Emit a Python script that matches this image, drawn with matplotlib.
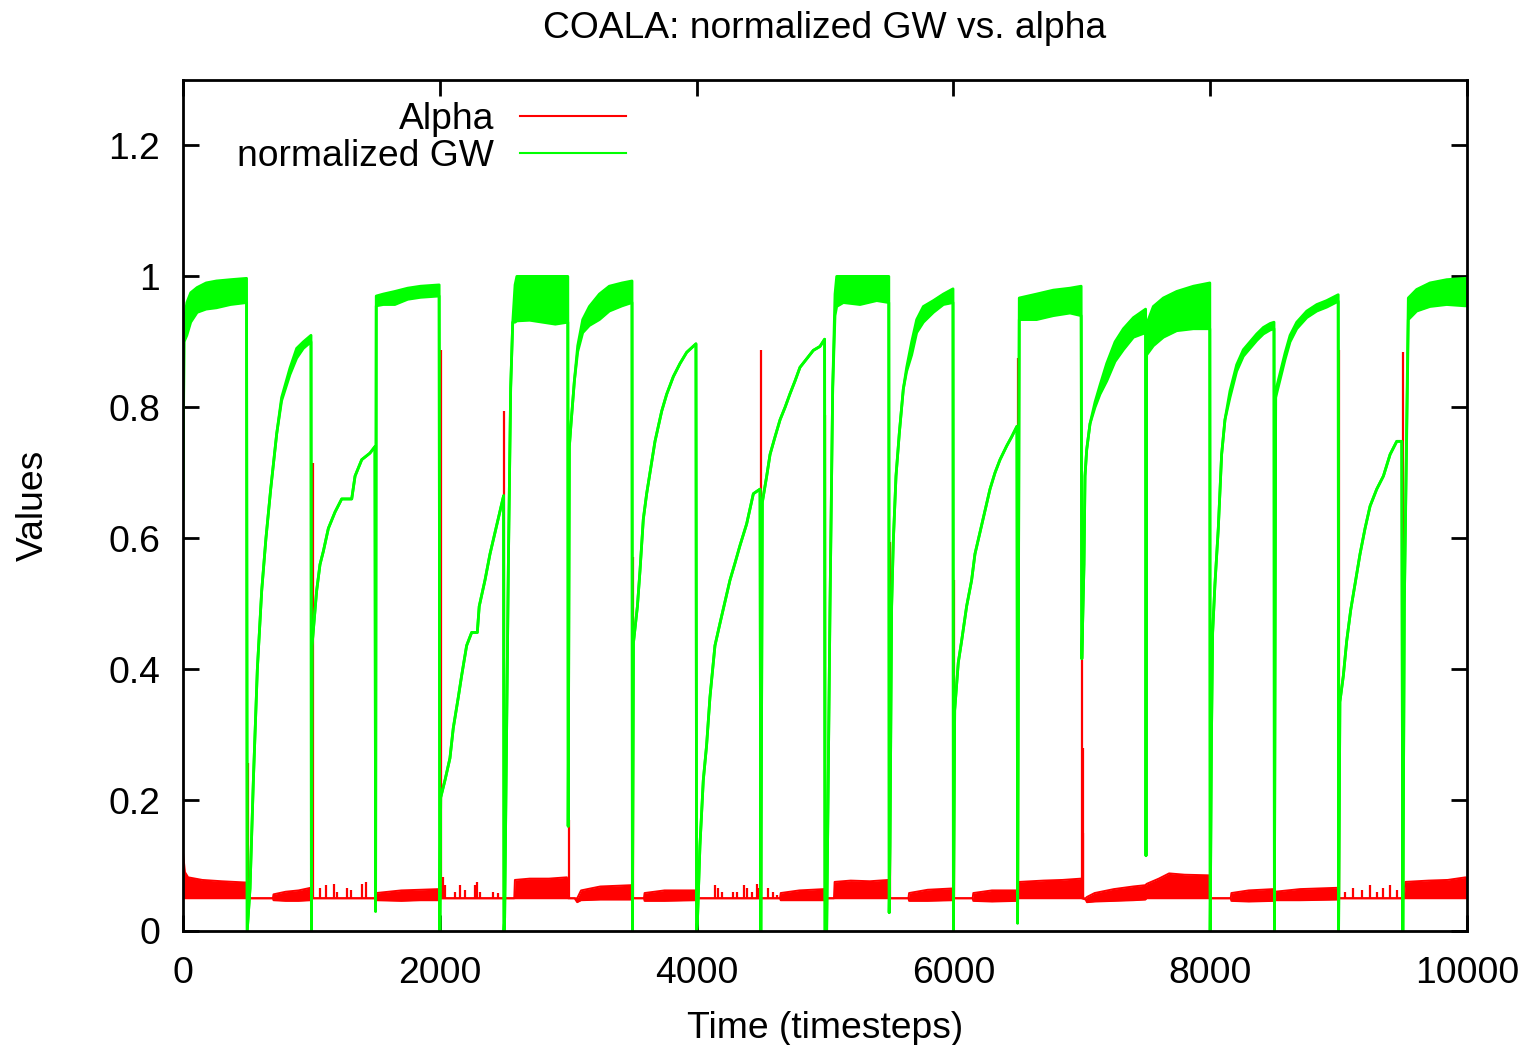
import numpy as np
import matplotlib
matplotlib.use("Agg")
import matplotlib.pyplot as plt

plt.rcParams['font.family'] = ['Liberation Sans', 'DejaVu Sans']

# normalized GW: time, lower edge, upper edge of the trace
# (one line per 500-step run, the reset dip is the first point of each line)
gw_t = [0, 8, 30, 60, 110, 180, 260, 370, 495,
        500, 522, 548, 579, 613, 646, 683, 730, 768, 833, 885, 937, 997,
        1000, 1005, 1041, 1067, 1093, 1132, 1184, 1236, 1314, 1340, 1392, 1456, 1495,
        1500, 1505, 1560, 1650, 1750, 1850, 1995,
        2000, 2007, 2040, 2079, 2105, 2144, 2170, 2209, 2248, 2292, 2307, 2352, 2391, 2430, 2469, 2497,
        2500, 2505, 2534, 2552, 2568, 2586, 2600, 2700, 2800, 2900, 2997,
        3000, 3009, 3022, 3048, 3074, 3113, 3165, 3243, 3320, 3420, 3497,
        3500, 3508, 3539, 3559, 3585, 3611, 3637, 3676, 3728, 3767, 3819, 3871, 3923, 3995,
        4000, 4006, 4026, 4052, 4078, 4104, 4143, 4182, 4221, 4260, 4299, 4338, 4390, 4442, 4494,
        4500, 4512, 4546, 4572, 4611, 4650, 4689, 4728, 4766, 4805, 4857, 4909, 4961, 4997,
        5000, 5013, 5039, 5060, 5078, 5091, 5143, 5273, 5403, 5497,
        5500, 5506, 5519, 5532, 5553, 5579, 5610, 5636, 5675, 5714, 5766, 5844, 5922, 5997,
        6000, 6010, 6038, 6064, 6103, 6142, 6168, 6207, 6246, 6285, 6324, 6363, 6415, 6454, 6495,
        6500, 6513, 6648, 6778, 6908, 6995,
        7000, 7017, 7025, 7038, 7064, 7103, 7142, 7194, 7259, 7324, 7402, 7497,
        7500, 7505, 7557, 7635, 7739, 7869, 7997,
        8000, 8010, 8019, 8037, 8063, 8089, 8115, 8154, 8206, 8258, 8310, 8362, 8414, 8466, 8497,
        8500, 8510, 8544, 8583, 8622, 8674, 8752, 8830, 8907, 8997,
        9000, 9010, 9037, 9063, 9094, 9128, 9167, 9206, 9245, 9297, 9349, 9401, 9453, 9492,
        9500, 9512, 9543, 9608, 9712, 9842, 9984, 10000]
gw_lo = [0.66, 0.90, 0.91, 0.93, 0.945, 0.95, 0.952, 0.957, 0.96,
         0.0, 0.065, 0.23, 0.40, 0.52, 0.60, 0.675, 0.76, 0.81, 0.85, 0.875, 0.89, 0.90,
         0.0, 0.436, 0.52, 0.56, 0.58, 0.615, 0.64, 0.66, 0.66, 0.695, 0.72, 0.73, 0.74,
         0.03, 0.955, 0.957, 0.957, 0.965, 0.968, 0.97,
         0.0, 0.204, 0.23, 0.264, 0.31, 0.357, 0.39, 0.436, 0.456, 0.456, 0.496, 0.536, 0.576, 0.609, 0.642, 0.665,
         0.0, 0.02, 0.56, 0.83, 0.93, 0.93, 0.932, 0.933, 0.93, 0.927, 0.93,
         0.16, 0.74, 0.775, 0.84, 0.885, 0.914, 0.925, 0.934, 0.947, 0.955, 0.96,
         0.0, 0.44, 0.496, 0.55, 0.629, 0.668, 0.70, 0.748, 0.794, 0.82, 0.847, 0.867, 0.884, 0.897,
         0.0, 0.012, 0.13, 0.23, 0.284, 0.357, 0.436, 0.47, 0.503, 0.536, 0.562, 0.589, 0.622, 0.668, 0.675,
         0.0, 0.655, 0.695, 0.728, 0.755, 0.781, 0.80, 0.821, 0.84, 0.861, 0.874, 0.887, 0.893, 0.904,
         0.0, 0.0, 0.496, 0.83, 0.94, 0.954, 0.96, 0.957, 0.963, 0.96,
         0.028, 0.13, 0.496, 0.595, 0.695, 0.761, 0.828, 0.855, 0.88, 0.914, 0.93, 0.945, 0.957, 0.96,
         0.0, 0.337, 0.41, 0.443, 0.496, 0.536, 0.576, 0.609, 0.642, 0.675, 0.70, 0.72, 0.741, 0.755, 0.771,
         0.012, 0.934, 0.934, 0.94, 0.944, 0.94,
         0.416, 0.56, 0.695, 0.735, 0.775, 0.80, 0.82, 0.84, 0.87, 0.888, 0.907, 0.914,
         0.115, 0.88, 0.894, 0.907, 0.917, 0.92, 0.92,
         0.0, 0.30, 0.456, 0.53, 0.615, 0.728, 0.781, 0.815, 0.855, 0.878, 0.89, 0.902, 0.912, 0.918, 0.92,
         0.0, 0.815, 0.842, 0.873, 0.90, 0.92, 0.937, 0.947, 0.953, 0.962,
         0.0, 0.35, 0.39, 0.443, 0.49, 0.53, 0.576, 0.615, 0.649, 0.675, 0.695, 0.728, 0.748, 0.748,
         0.0, 0.50, 0.934, 0.947, 0.954, 0.957, 0.955, 0.955]
gw_hi = [0.66, 0.93, 0.96, 0.975, 0.983, 0.99, 0.993, 0.995, 0.997,
         0.0, 0.065, 0.23, 0.40, 0.52, 0.60, 0.675, 0.76, 0.815, 0.86, 0.89, 0.90, 0.91,
         0.0, 0.436, 0.52, 0.56, 0.58, 0.615, 0.64, 0.66, 0.66, 0.695, 0.72, 0.73, 0.74,
         0.03, 0.97, 0.973, 0.977, 0.982, 0.985, 0.987,
         0.0, 0.204, 0.23, 0.264, 0.31, 0.357, 0.39, 0.436, 0.456, 0.456, 0.496, 0.536, 0.576, 0.609, 0.642, 0.665,
         0.0, 0.02, 0.56, 0.83, 0.93, 0.987, 1.0, 1.0, 1.0, 1.0, 1.0,
         0.16, 0.74, 0.775, 0.84, 0.894, 0.934, 0.954, 0.973, 0.985, 0.99, 0.993,
         0.0, 0.44, 0.496, 0.55, 0.629, 0.668, 0.70, 0.748, 0.794, 0.82, 0.847, 0.867, 0.884, 0.897,
         0.0, 0.012, 0.13, 0.23, 0.284, 0.357, 0.436, 0.47, 0.503, 0.536, 0.562, 0.589, 0.622, 0.668, 0.675,
         0.0, 0.655, 0.695, 0.728, 0.755, 0.781, 0.80, 0.821, 0.84, 0.861, 0.874, 0.887, 0.893, 0.904,
         0.0, 0.0, 0.496, 0.83, 0.973, 1.0, 1.0, 1.0, 1.0, 1.0,
         0.028, 0.13, 0.496, 0.595, 0.695, 0.761, 0.828, 0.861, 0.90, 0.934, 0.954, 0.963, 0.973, 0.981,
         0.0, 0.337, 0.41, 0.443, 0.496, 0.536, 0.576, 0.609, 0.642, 0.675, 0.70, 0.72, 0.741, 0.755, 0.771,
         0.012, 0.967, 0.973, 0.979, 0.982, 0.985,
         0.416, 0.56, 0.695, 0.735, 0.775, 0.808, 0.834, 0.867, 0.90, 0.92, 0.937, 0.95,
         0.115, 0.927, 0.954, 0.967, 0.977, 0.985, 0.99,
         0.0, 0.30, 0.456, 0.53, 0.615, 0.728, 0.781, 0.825, 0.865, 0.888, 0.90, 0.912, 0.922, 0.928, 0.93,
         0.0, 0.825, 0.852, 0.883, 0.91, 0.93, 0.947, 0.957, 0.963, 0.972,
         0.0, 0.35, 0.39, 0.443, 0.49, 0.53, 0.576, 0.615, 0.649, 0.675, 0.695, 0.728, 0.748, 0.748,
         0.0, 0.50, 0.967, 0.98, 0.99, 0.995, 0.997, 0.997]

# Alpha: baseline 0.05 with a noise band (lower / upper edge)
al_t = [0, 15, 40, 150, 300, 495, 500,
        700, 705, 800, 900, 995, 1000,
        1500, 1505, 1700, 1850, 1995, 2000,
        2580, 2585, 2700, 2850, 2990, 3000,
        3050, 3070, 3100, 3250, 3495, 3500,
        3590, 3595, 3750, 3995, 4000,
        4650, 4655, 4800, 4995, 5000,
        5070, 5075, 5200, 5350, 5495, 5500,
        5650, 5655, 5800, 5995, 6000,
        6150, 6155, 6300, 6495, 6500,
        6510, 6515, 6700, 6850, 6995, 7000,
        7030, 7040, 7100, 7250, 7400, 7495,
        7505, 7600, 7680, 7800, 7995, 8000,
        8160, 8165, 8300, 8495,
        8505, 8700, 8995, 9000,
        9510, 9520, 9700, 9850, 9990, 10000]
al_lo = [0.05, 0.05, 0.05, 0.05, 0.05, 0.05, 0.05,
         0.05, 0.047, 0.046, 0.046, 0.047, 0.05,
         0.05, 0.047, 0.046, 0.047, 0.047, 0.05,
         0.05, 0.05, 0.05, 0.05, 0.05, 0.05,
         0.05, 0.044, 0.047, 0.048, 0.048, 0.05,
         0.05, 0.046, 0.046, 0.047, 0.05,
         0.05, 0.047, 0.047, 0.047, 0.05,
         0.05, 0.05, 0.05, 0.05, 0.05, 0.05,
         0.05, 0.046, 0.046, 0.047, 0.05,
         0.05, 0.046, 0.045, 0.046, 0.05,
         0.05, 0.05, 0.05, 0.05, 0.05, 0.05,
         0.048, 0.044, 0.045, 0.046, 0.047, 0.048,
         0.05, 0.05, 0.05, 0.05, 0.05, 0.05,
         0.05, 0.046, 0.045, 0.046,
         0.047, 0.047, 0.048, 0.05,
         0.05, 0.05, 0.05, 0.05, 0.05, 0.05]
al_hi = [0.12, 0.09, 0.082, 0.078, 0.076, 0.074, 0.05,
         0.05, 0.056, 0.06, 0.062, 0.066, 0.05,
         0.05, 0.058, 0.062, 0.063, 0.064, 0.05,
         0.05, 0.078, 0.08, 0.08, 0.082, 0.05,
         0.05, 0.05, 0.062, 0.068, 0.07, 0.05,
         0.05, 0.058, 0.062, 0.062, 0.05,
         0.05, 0.058, 0.062, 0.064, 0.05,
         0.05, 0.075, 0.077, 0.076, 0.078, 0.05,
         0.05, 0.058, 0.063, 0.065, 0.05,
         0.05, 0.058, 0.062, 0.062, 0.05,
         0.05, 0.075, 0.077, 0.078, 0.08, 0.05,
         0.05, 0.052, 0.058, 0.064, 0.068, 0.07,
         0.072, 0.08, 0.088, 0.086, 0.085, 0.05,
         0.05, 0.058, 0.062, 0.064,
         0.06, 0.064, 0.066, 0.05,
         0.05, 0.075, 0.077, 0.078, 0.082, 0.08]

# Alpha spikes (at the resets and the sparse ones in quiet runs)
spike_t = [510, 1010, 2008, 2503, 3003, 3505, 4503, 5003, 5505, 6008, 6503,
           7003, 7008, 7013, 9003, 9503,
           1067, 1114, 1176, 1197, 1280, 1306, 1392, 1426,
           2027, 2040, 2118, 2157, 2196, 2274, 2292, 2313, 2417, 2456,
           4143, 4169, 4195, 4286, 4312, 4369, 4390, 4429, 4468, 4489,
           4559, 4598, 4624,
           9050, 9115, 9180, 9245, 9297, 9349, 9401, 9453]
spike_v = [0.257, 0.715, 0.887, 0.794, 0.17, 0.572, 0.887, 0.788, 0.595, 0.536, 0.875,
           0.43, 0.28, 0.15, 0.887, 0.884,
           0.065, 0.07, 0.072, 0.06, 0.066, 0.063, 0.072, 0.075,
           0.082, 0.07, 0.06, 0.07, 0.062, 0.07, 0.075, 0.06, 0.06, 0.058,
           0.07, 0.065, 0.06, 0.06, 0.06, 0.07, 0.065, 0.06, 0.072, 0.065,
           0.065, 0.06, 0.055,
           0.06, 0.065, 0.062, 0.07, 0.06, 0.066, 0.07, 0.062]

red = '#ff0000'
green = '#00ff00'

fig = plt.figure(figsize=(15.28, 10.45), dpi=100)
ax = fig.add_axes([183 / 1528, 114 / 1045, 1284 / 1528, 851 / 1045])

# alpha first, GW drawn on top of it (same order as the original plot)
ax.fill_between(al_t, al_lo, al_hi, color=red, lw=0)
ax.vlines(spike_t, 0.05, spike_v, color=red, lw=1.6)
ax.plot(al_t, al_lo, color=red, lw=1.4)
ax.plot(al_t, al_hi, color=red, lw=1.4, label='Alpha')

ax.fill_between(gw_t, gw_lo, gw_hi, color=green, lw=0)
ax.plot(gw_t, gw_lo, color=green, lw=2.0)
ax.plot(gw_t, gw_hi, color=green, lw=2.0, label='normalized GW')

ax.set_xlim(0, 10000)
ax.set_ylim(0, 1.3)
ax.set_xticks(np.arange(0, 10001, 2000))
ax.set_yticks([0, 0.2, 0.4, 0.6, 0.8, 1, 1.2])
ax.set_yticklabels(['0', '0.2', '0.4', '0.6', '0.8', '1', '1.2'])

fs = 26.8
ax.tick_params(direction='in', length=11.5, width=2, top=True, right=True,
               labelsize=fs)
ax.tick_params(axis='x', pad=18)
ax.tick_params(axis='y', pad=16.5)
for sp in ax.spines.values():
    sp.set_linewidth(2)

ax.set_title('COALA: normalized GW vs. alpha', fontsize=fs, pad=30)
ax.set_xlabel('Time (timesteps)', fontsize=fs, labelpad=14.5)
ax.set_ylabel('Values', fontsize=fs, labelpad=41)

leg = ax.legend(loc='upper right', bbox_to_anchor=((626 - 183) / 1284, (931 - 102) / 851),
                frameon=False, markerfirst=False, fontsize=fs, handlelength=2.85,
                handletextpad=0.7, labelspacing=0.06, borderpad=0, borderaxespad=0)
for h in leg.get_lines():
    h.set_linewidth(1.5)

fig.savefig('out.png', dpi=100)
